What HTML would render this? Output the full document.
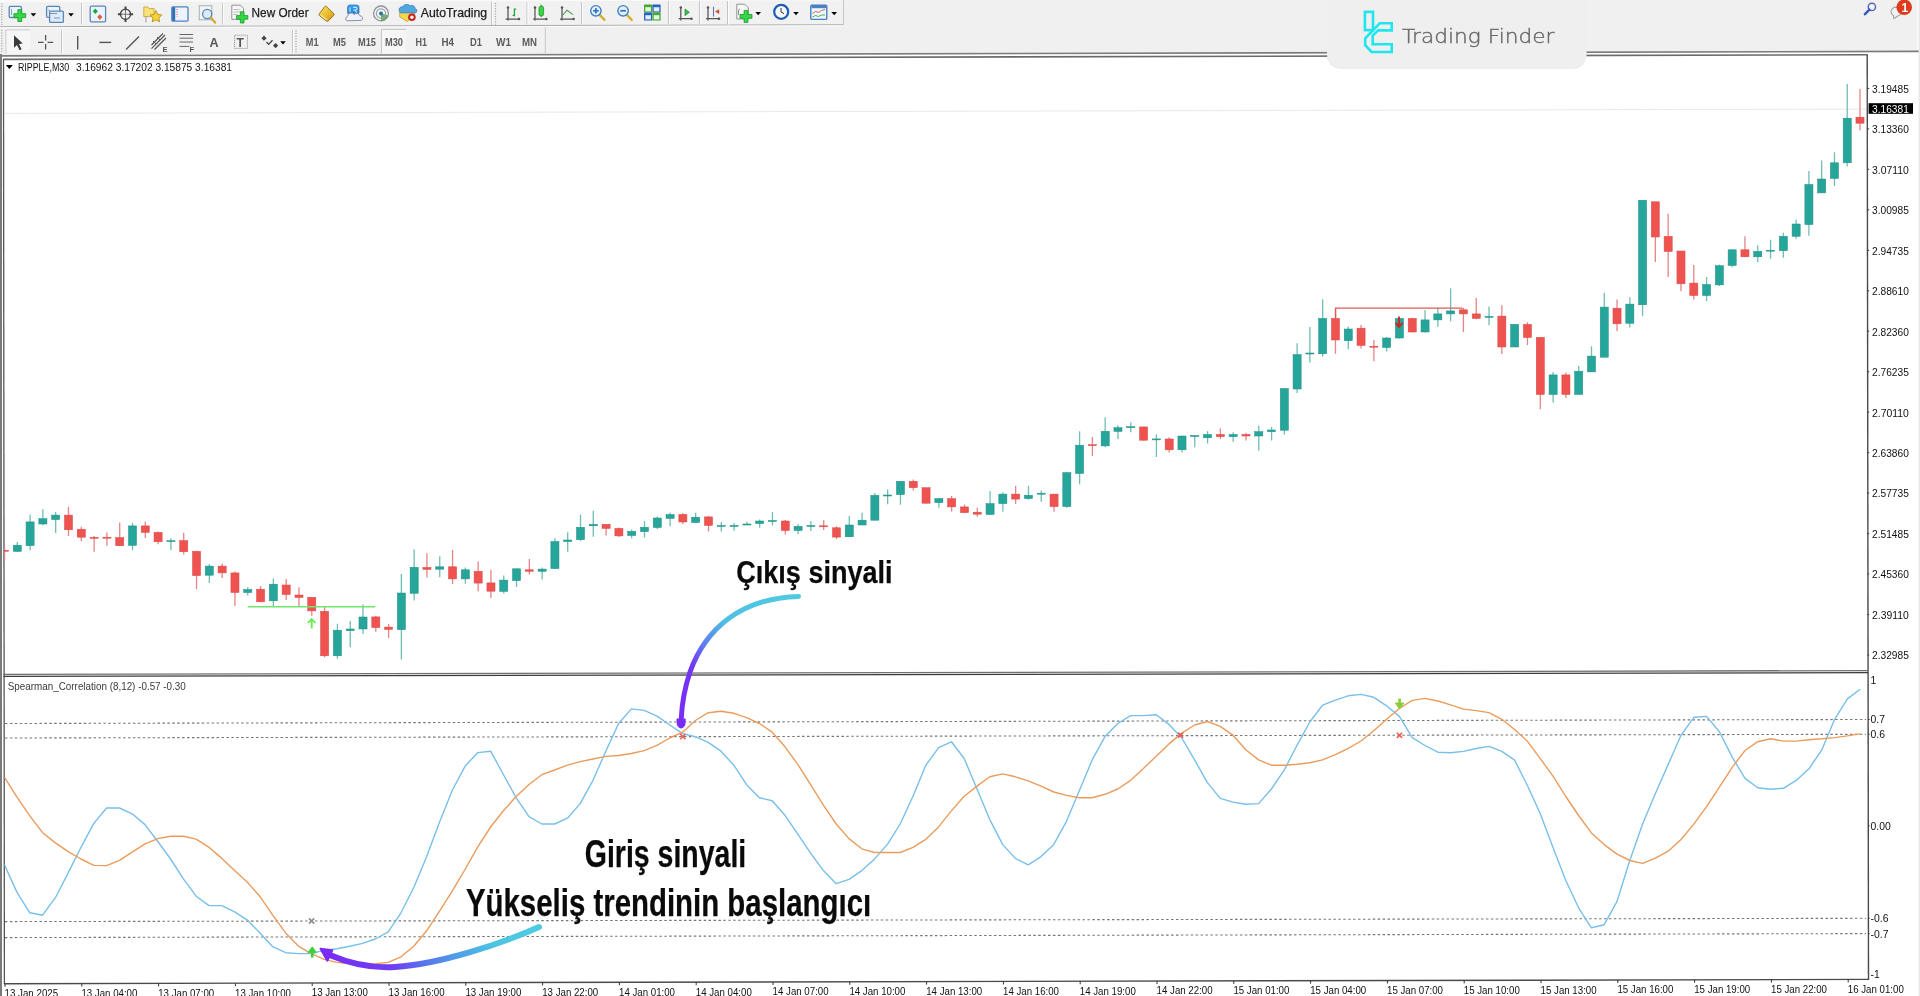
<!DOCTYPE html>
<html><head><meta charset="utf-8"><title>RIPPLE,M30</title>
<style>
html,body{margin:0;padding:0;background:#fff;width:1920px;height:996px;overflow:hidden}
svg{display:block;will-change:transform}
.ax{font-family:"Liberation Sans", Arial, sans-serif;font-size:10.4px;fill:#111}
.tb{font-family:"Liberation Sans", Arial, sans-serif;font-size:12px;fill:#1a1a1a}
.tf{font-family:"Liberation Sans", Arial, sans-serif;font-size:10.5px;fill:#505050;font-weight:bold}
.big{font-family:"Liberation Sans", Arial, sans-serif;font-weight:bold;fill:#0a0a0a;stroke:#0a0a0a;stroke-width:0.25px}
</style></head><body>
<svg width="1920" height="996" viewBox="0 0 1920 996">
<polygon points="0,0 1920,0 1920,51.3 0,55.8" fill="#f0f0f0"/>
<rect x="0" y="54" width="2" height="942" fill="#7a7a7a"/>
<rect x="1918.6" y="0" width="1.4" height="996" fill="#e9e9e9"/>
<line x1="0" y1="55.9" x2="1918.6" y2="51.4" stroke="#7c7c7c" stroke-width="1.6"/>
<line x1="3" y1="59.4" x2="1867.5" y2="54.8" stroke="#6a6a6a" stroke-width="1.6"/>
<line x1="3.5" y1="59" x2="4.4" y2="984" stroke="#555" stroke-width="1.3"/>
<line x1="1867.2" y1="54.5" x2="1868.5" y2="980" stroke="#4a4a4a" stroke-width="1.4"/>
<line x1="3.5" y1="674.3" x2="1868" y2="670.6" stroke="#707070" stroke-width="1.3"/>
<line x1="3.5" y1="676.4" x2="1868" y2="672.7" stroke="#3c3c3c" stroke-width="1.3"/>
<line x1="4" y1="983.7" x2="1868.5" y2="979.4" stroke="#4a4a4a" stroke-width="1.4"/>
<line x1="5" y1="113.4" x2="1866" y2="109.1" stroke="#ebe8e5" stroke-width="1"/>
<g clip-path="url(#mainclip)">
<line x1="4.52" y1="546.6" x2="4.52" y2="559.9" stroke="#e88383" stroke-width="1.3"/>
<rect x="0.47" y="550.3" width="8.1" height="1.0" fill="#ef5350" stroke="#d94848" stroke-width="0.5"/>
<line x1="17.32" y1="542.0" x2="17.32" y2="551.7" stroke="#6fbdb4" stroke-width="1.3"/>
<rect x="13.27" y="545.2" width="8.1" height="6.2" fill="#26a69a" stroke="#1f8f84" stroke-width="0.5"/>
<line x1="30.10" y1="514.7" x2="30.10" y2="550.2" stroke="#6fbdb4" stroke-width="1.3"/>
<rect x="26.05" y="521.9" width="8.1" height="23.8" fill="#26a69a" stroke="#1f8f84" stroke-width="0.5"/>
<line x1="42.89" y1="509.3" x2="42.89" y2="525.2" stroke="#6fbdb4" stroke-width="1.3"/>
<rect x="38.84" y="518.7" width="8.1" height="5.3" fill="#26a69a" stroke="#1f8f84" stroke-width="0.5"/>
<line x1="55.68" y1="512.0" x2="55.68" y2="533.1" stroke="#6fbdb4" stroke-width="1.3"/>
<rect x="51.63" y="515.1" width="8.1" height="4.5" fill="#26a69a" stroke="#1f8f84" stroke-width="0.5"/>
<line x1="68.49" y1="506.9" x2="68.49" y2="536.1" stroke="#e88383" stroke-width="1.3"/>
<rect x="64.44" y="515.1" width="8.1" height="14.7" fill="#ef5350" stroke="#d94848" stroke-width="0.5"/>
<line x1="81.30" y1="526.7" x2="81.30" y2="541.2" stroke="#e88383" stroke-width="1.3"/>
<rect x="77.25" y="529.2" width="8.1" height="8.0" fill="#ef5350" stroke="#d94848" stroke-width="0.5"/>
<line x1="94.11" y1="536.1" x2="94.11" y2="551.7" stroke="#e88383" stroke-width="1.3"/>
<rect x="90.06" y="537.4" width="8.1" height="1.0" fill="#ef5350" stroke="#d94848" stroke-width="0.5"/>
<line x1="106.91" y1="532.4" x2="106.91" y2="545.7" stroke="#e88383" stroke-width="1.3"/>
<rect x="102.86" y="537.2" width="8.1" height="1.0" fill="#ef5350" stroke="#d94848" stroke-width="0.5"/>
<line x1="119.71" y1="522.5" x2="119.71" y2="546.0" stroke="#e88383" stroke-width="1.3"/>
<rect x="115.66" y="537.6" width="8.1" height="8.1" fill="#ef5350" stroke="#d94848" stroke-width="0.5"/>
<line x1="132.50" y1="523.1" x2="132.50" y2="550.2" stroke="#6fbdb4" stroke-width="1.3"/>
<rect x="128.45" y="525.9" width="8.1" height="19.5" fill="#26a69a" stroke="#1f8f84" stroke-width="0.5"/>
<line x1="145.29" y1="521.6" x2="145.29" y2="538.0" stroke="#e88383" stroke-width="1.3"/>
<rect x="141.24" y="525.9" width="8.1" height="6.5" fill="#ef5350" stroke="#d94848" stroke-width="0.5"/>
<line x1="158.10" y1="531.6" x2="158.10" y2="544.2" stroke="#e88383" stroke-width="1.3"/>
<rect x="154.05" y="532.4" width="8.1" height="9.4" fill="#ef5350" stroke="#d94848" stroke-width="0.5"/>
<line x1="170.91" y1="538.2" x2="170.91" y2="550.2" stroke="#6fbdb4" stroke-width="1.3"/>
<rect x="166.86" y="540.7" width="8.1" height="1.0" fill="#26a69a" stroke="#1f8f84" stroke-width="0.5"/>
<line x1="183.72" y1="532.8" x2="183.72" y2="554.5" stroke="#e88383" stroke-width="1.3"/>
<rect x="179.67" y="540.6" width="8.1" height="11.1" fill="#ef5350" stroke="#d94848" stroke-width="0.5"/>
<line x1="196.54" y1="550.8" x2="196.54" y2="589.0" stroke="#e88383" stroke-width="1.3"/>
<rect x="192.49" y="551.3" width="8.1" height="24.3" fill="#ef5350" stroke="#d94848" stroke-width="0.5"/>
<line x1="209.34" y1="563.9" x2="209.34" y2="583.0" stroke="#6fbdb4" stroke-width="1.3"/>
<rect x="205.29" y="566.1" width="8.1" height="9.1" fill="#26a69a" stroke="#1f8f84" stroke-width="0.5"/>
<line x1="222.14" y1="563.4" x2="222.14" y2="577.9" stroke="#e88383" stroke-width="1.3"/>
<rect x="218.09" y="566.1" width="8.1" height="6.8" fill="#ef5350" stroke="#d94848" stroke-width="0.5"/>
<line x1="234.96" y1="571.4" x2="234.96" y2="606.0" stroke="#e88383" stroke-width="1.3"/>
<rect x="230.91" y="572.9" width="8.1" height="19.6" fill="#ef5350" stroke="#d94848" stroke-width="0.5"/>
<line x1="247.77" y1="587.2" x2="247.77" y2="595.5" stroke="#6fbdb4" stroke-width="1.3"/>
<rect x="243.72" y="589.5" width="8.1" height="3.0" fill="#26a69a" stroke="#1f8f84" stroke-width="0.5"/>
<line x1="260.57" y1="586.0" x2="260.57" y2="602.3" stroke="#e88383" stroke-width="1.3"/>
<rect x="256.52" y="589.2" width="8.1" height="12.6" fill="#ef5350" stroke="#d94848" stroke-width="0.5"/>
<line x1="273.37" y1="578.5" x2="273.37" y2="606.8" stroke="#6fbdb4" stroke-width="1.3"/>
<rect x="269.32" y="584.2" width="8.1" height="16.6" fill="#26a69a" stroke="#1f8f84" stroke-width="0.5"/>
<line x1="286.17" y1="579.0" x2="286.17" y2="600.0" stroke="#e88383" stroke-width="1.3"/>
<rect x="282.12" y="585.0" width="8.1" height="9.5" fill="#ef5350" stroke="#d94848" stroke-width="0.5"/>
<line x1="298.98" y1="587.2" x2="298.98" y2="606.8" stroke="#e88383" stroke-width="1.3"/>
<rect x="294.93" y="595.0" width="8.1" height="2.5" fill="#ef5350" stroke="#d94848" stroke-width="0.5"/>
<line x1="311.78" y1="597.3" x2="311.78" y2="615.8" stroke="#e88383" stroke-width="1.3"/>
<rect x="307.73" y="597.3" width="8.1" height="13.6" fill="#ef5350" stroke="#d94848" stroke-width="0.5"/>
<line x1="324.62" y1="607.1" x2="324.62" y2="657.3" stroke="#e88383" stroke-width="1.3"/>
<rect x="320.57" y="611.3" width="8.1" height="44.5" fill="#ef5350" stroke="#d94848" stroke-width="0.5"/>
<line x1="337.43" y1="623.7" x2="337.43" y2="658.8" stroke="#6fbdb4" stroke-width="1.3"/>
<rect x="333.38" y="630.2" width="8.1" height="25.6" fill="#26a69a" stroke="#1f8f84" stroke-width="0.5"/>
<line x1="350.22" y1="621.1" x2="350.22" y2="647.2" stroke="#6fbdb4" stroke-width="1.3"/>
<rect x="346.17" y="629.0" width="8.1" height="1.6" fill="#26a69a" stroke="#1f8f84" stroke-width="0.5"/>
<line x1="363.01" y1="604.5" x2="363.01" y2="633.9" stroke="#6fbdb4" stroke-width="1.3"/>
<rect x="358.96" y="617.0" width="8.1" height="12.0" fill="#26a69a" stroke="#1f8f84" stroke-width="0.5"/>
<line x1="375.81" y1="615.8" x2="375.81" y2="631.7" stroke="#e88383" stroke-width="1.3"/>
<rect x="371.76" y="616.9" width="8.1" height="10.7" fill="#ef5350" stroke="#d94848" stroke-width="0.5"/>
<line x1="388.61" y1="624.1" x2="388.61" y2="638.1" stroke="#e88383" stroke-width="1.3"/>
<rect x="384.56" y="627.1" width="8.1" height="2.3" fill="#ef5350" stroke="#d94848" stroke-width="0.5"/>
<line x1="401.39" y1="574.0" x2="401.39" y2="659.5" stroke="#6fbdb4" stroke-width="1.3"/>
<rect x="397.34" y="593.0" width="8.1" height="36.7" fill="#26a69a" stroke="#1f8f84" stroke-width="0.5"/>
<line x1="414.16" y1="549.3" x2="414.16" y2="600.5" stroke="#6fbdb4" stroke-width="1.3"/>
<rect x="410.11" y="567.3" width="8.1" height="26.0" fill="#26a69a" stroke="#1f8f84" stroke-width="0.5"/>
<line x1="426.94" y1="553.3" x2="426.94" y2="577.6" stroke="#e88383" stroke-width="1.3"/>
<rect x="422.89" y="567.4" width="8.1" height="2.0" fill="#ef5350" stroke="#d94848" stroke-width="0.5"/>
<line x1="439.74" y1="556.3" x2="439.74" y2="577.3" stroke="#6fbdb4" stroke-width="1.3"/>
<rect x="435.69" y="566.8" width="8.1" height="2.4" fill="#26a69a" stroke="#1f8f84" stroke-width="0.5"/>
<line x1="452.55" y1="550.0" x2="452.55" y2="584.1" stroke="#e88383" stroke-width="1.3"/>
<rect x="448.50" y="566.8" width="8.1" height="12.1" fill="#ef5350" stroke="#d94848" stroke-width="0.5"/>
<line x1="465.35" y1="567.6" x2="465.35" y2="583.7" stroke="#6fbdb4" stroke-width="1.3"/>
<rect x="461.30" y="569.8" width="8.1" height="9.1" fill="#26a69a" stroke="#1f8f84" stroke-width="0.5"/>
<line x1="478.15" y1="561.5" x2="478.15" y2="591.2" stroke="#e88383" stroke-width="1.3"/>
<rect x="474.10" y="571.3" width="8.1" height="11.8" fill="#ef5350" stroke="#d94848" stroke-width="0.5"/>
<line x1="490.96" y1="569.8" x2="490.96" y2="598.1" stroke="#e88383" stroke-width="1.3"/>
<rect x="486.91" y="582.9" width="8.1" height="8.3" fill="#ef5350" stroke="#d94848" stroke-width="0.5"/>
<line x1="503.76" y1="575.4" x2="503.76" y2="593.6" stroke="#6fbdb4" stroke-width="1.3"/>
<rect x="499.71" y="580.1" width="8.1" height="11.3" fill="#26a69a" stroke="#1f8f84" stroke-width="0.5"/>
<line x1="516.55" y1="568.8" x2="516.55" y2="587.1" stroke="#6fbdb4" stroke-width="1.3"/>
<rect x="512.50" y="568.8" width="8.1" height="11.9" fill="#26a69a" stroke="#1f8f84" stroke-width="0.5"/>
<line x1="529.34" y1="559.0" x2="529.34" y2="574.6" stroke="#e88383" stroke-width="1.3"/>
<rect x="525.29" y="569.8" width="8.1" height="1.5" fill="#ef5350" stroke="#d94848" stroke-width="0.5"/>
<line x1="542.14" y1="567.6" x2="542.14" y2="579.6" stroke="#6fbdb4" stroke-width="1.3"/>
<rect x="538.09" y="569.1" width="8.1" height="2.2" fill="#26a69a" stroke="#1f8f84" stroke-width="0.5"/>
<line x1="554.93" y1="538.2" x2="554.93" y2="569.1" stroke="#6fbdb4" stroke-width="1.3"/>
<rect x="550.88" y="541.5" width="8.1" height="27.1" fill="#26a69a" stroke="#1f8f84" stroke-width="0.5"/>
<line x1="567.71" y1="532.2" x2="567.71" y2="551.7" stroke="#6fbdb4" stroke-width="1.3"/>
<rect x="563.66" y="540.0" width="8.1" height="1.5" fill="#26a69a" stroke="#1f8f84" stroke-width="0.5"/>
<line x1="580.50" y1="514.8" x2="580.50" y2="540.9" stroke="#6fbdb4" stroke-width="1.3"/>
<rect x="576.45" y="527.3" width="8.1" height="12.4" fill="#26a69a" stroke="#1f8f84" stroke-width="0.5"/>
<line x1="593.29" y1="510.8" x2="593.29" y2="536.7" stroke="#6fbdb4" stroke-width="1.3"/>
<rect x="589.24" y="524.3" width="8.1" height="1.5" fill="#26a69a" stroke="#1f8f84" stroke-width="0.5"/>
<line x1="606.09" y1="524.3" x2="606.09" y2="535.5" stroke="#e88383" stroke-width="1.3"/>
<rect x="602.04" y="524.3" width="8.1" height="4.1" fill="#ef5350" stroke="#d94848" stroke-width="0.5"/>
<line x1="618.90" y1="527.6" x2="618.90" y2="537.0" stroke="#e88383" stroke-width="1.3"/>
<rect x="614.85" y="528.4" width="8.1" height="7.5" fill="#ef5350" stroke="#d94848" stroke-width="0.5"/>
<line x1="631.70" y1="529.5" x2="631.70" y2="538.2" stroke="#6fbdb4" stroke-width="1.3"/>
<rect x="627.65" y="531.4" width="8.1" height="4.1" fill="#26a69a" stroke="#1f8f84" stroke-width="0.5"/>
<line x1="644.50" y1="521.3" x2="644.50" y2="537.4" stroke="#6fbdb4" stroke-width="1.3"/>
<rect x="640.45" y="527.3" width="8.1" height="4.3" fill="#26a69a" stroke="#1f8f84" stroke-width="0.5"/>
<line x1="657.29" y1="516.4" x2="657.29" y2="529.0" stroke="#6fbdb4" stroke-width="1.3"/>
<rect x="653.24" y="518.0" width="8.1" height="9.5" fill="#26a69a" stroke="#1f8f84" stroke-width="0.5"/>
<line x1="670.08" y1="512.4" x2="670.08" y2="526.3" stroke="#6fbdb4" stroke-width="1.3"/>
<rect x="666.03" y="514.5" width="8.1" height="3.9" fill="#26a69a" stroke="#1f8f84" stroke-width="0.5"/>
<line x1="682.88" y1="513.0" x2="682.88" y2="524.0" stroke="#e88383" stroke-width="1.3"/>
<rect x="678.83" y="514.5" width="8.1" height="7.5" fill="#ef5350" stroke="#d94848" stroke-width="0.5"/>
<line x1="695.68" y1="512.7" x2="695.68" y2="523.3" stroke="#6fbdb4" stroke-width="1.3"/>
<rect x="691.63" y="517.2" width="8.1" height="5.3" fill="#26a69a" stroke="#1f8f84" stroke-width="0.5"/>
<line x1="708.49" y1="516.0" x2="708.49" y2="531.5" stroke="#e88383" stroke-width="1.3"/>
<rect x="704.44" y="516.9" width="8.1" height="8.6" fill="#ef5350" stroke="#d94848" stroke-width="0.5"/>
<line x1="721.29" y1="522.0" x2="721.29" y2="531.5" stroke="#6fbdb4" stroke-width="1.3"/>
<rect x="717.24" y="525.5" width="8.1" height="1.0" fill="#26a69a" stroke="#1f8f84" stroke-width="0.5"/>
<line x1="734.09" y1="523.0" x2="734.09" y2="530.8" stroke="#6fbdb4" stroke-width="1.3"/>
<rect x="730.04" y="525.5" width="8.1" height="1.0" fill="#26a69a" stroke="#1f8f84" stroke-width="0.5"/>
<line x1="746.89" y1="521.7" x2="746.89" y2="525.0" stroke="#6fbdb4" stroke-width="1.3"/>
<rect x="742.84" y="524.0" width="8.1" height="1.0" fill="#26a69a" stroke="#1f8f84" stroke-width="0.5"/>
<line x1="759.69" y1="519.5" x2="759.69" y2="527.8" stroke="#6fbdb4" stroke-width="1.3"/>
<rect x="755.64" y="521.0" width="8.1" height="2.6" fill="#26a69a" stroke="#1f8f84" stroke-width="0.5"/>
<line x1="772.49" y1="512.0" x2="772.49" y2="525.5" stroke="#6fbdb4" stroke-width="1.3"/>
<rect x="768.44" y="520.5" width="8.1" height="1.0" fill="#26a69a" stroke="#1f8f84" stroke-width="0.5"/>
<line x1="785.29" y1="520.0" x2="785.29" y2="534.5" stroke="#e88383" stroke-width="1.3"/>
<rect x="781.24" y="521.0" width="8.1" height="9.5" fill="#ef5350" stroke="#d94848" stroke-width="0.5"/>
<line x1="798.09" y1="524.0" x2="798.09" y2="534.1" stroke="#6fbdb4" stroke-width="1.3"/>
<rect x="794.04" y="526.3" width="8.1" height="4.2" fill="#26a69a" stroke="#1f8f84" stroke-width="0.5"/>
<line x1="810.89" y1="521.0" x2="810.89" y2="531.0" stroke="#6fbdb4" stroke-width="1.3"/>
<rect x="806.84" y="525.5" width="8.1" height="1.0" fill="#26a69a" stroke="#1f8f84" stroke-width="0.5"/>
<line x1="823.69" y1="520.2" x2="823.69" y2="530.0" stroke="#e88383" stroke-width="1.3"/>
<rect x="819.64" y="525.8" width="8.1" height="1.0" fill="#ef5350" stroke="#d94848" stroke-width="0.5"/>
<line x1="836.50" y1="526.3" x2="836.50" y2="539.0" stroke="#e88383" stroke-width="1.3"/>
<rect x="832.45" y="527.8" width="8.1" height="9.3" fill="#ef5350" stroke="#d94848" stroke-width="0.5"/>
<line x1="849.30" y1="516.0" x2="849.30" y2="536.8" stroke="#6fbdb4" stroke-width="1.3"/>
<rect x="845.25" y="525.0" width="8.1" height="11.8" fill="#26a69a" stroke="#1f8f84" stroke-width="0.5"/>
<line x1="862.09" y1="512.7" x2="862.09" y2="525.0" stroke="#6fbdb4" stroke-width="1.3"/>
<rect x="858.04" y="520.2" width="8.1" height="4.8" fill="#26a69a" stroke="#1f8f84" stroke-width="0.5"/>
<line x1="874.87" y1="493.1" x2="874.87" y2="520.2" stroke="#6fbdb4" stroke-width="1.3"/>
<rect x="870.82" y="495.4" width="8.1" height="24.8" fill="#26a69a" stroke="#1f8f84" stroke-width="0.5"/>
<line x1="887.65" y1="489.5" x2="887.65" y2="504.3" stroke="#6fbdb4" stroke-width="1.3"/>
<rect x="883.60" y="495.0" width="8.1" height="1.0" fill="#26a69a" stroke="#1f8f84" stroke-width="0.5"/>
<line x1="900.45" y1="481.3" x2="900.45" y2="504.7" stroke="#6fbdb4" stroke-width="1.3"/>
<rect x="896.40" y="481.3" width="8.1" height="13.3" fill="#26a69a" stroke="#1f8f84" stroke-width="0.5"/>
<line x1="913.24" y1="479.5" x2="913.24" y2="490.4" stroke="#e88383" stroke-width="1.3"/>
<rect x="909.19" y="481.3" width="8.1" height="6.4" fill="#ef5350" stroke="#d94848" stroke-width="0.5"/>
<line x1="926.05" y1="487.7" x2="926.05" y2="503.6" stroke="#e88383" stroke-width="1.3"/>
<rect x="922.00" y="487.7" width="8.1" height="15.5" fill="#ef5350" stroke="#d94848" stroke-width="0.5"/>
<line x1="938.86" y1="497.9" x2="938.86" y2="507.7" stroke="#6fbdb4" stroke-width="1.3"/>
<rect x="934.81" y="498.6" width="8.1" height="4.1" fill="#26a69a" stroke="#1f8f84" stroke-width="0.5"/>
<line x1="951.66" y1="496.1" x2="951.66" y2="511.4" stroke="#e88383" stroke-width="1.3"/>
<rect x="947.61" y="498.6" width="8.1" height="8.3" fill="#ef5350" stroke="#d94848" stroke-width="0.5"/>
<line x1="964.47" y1="504.7" x2="964.47" y2="513.0" stroke="#e88383" stroke-width="1.3"/>
<rect x="960.42" y="506.9" width="8.1" height="5.8" fill="#ef5350" stroke="#d94848" stroke-width="0.5"/>
<line x1="977.28" y1="507.7" x2="977.28" y2="516.7" stroke="#e88383" stroke-width="1.3"/>
<rect x="973.23" y="512.2" width="8.1" height="2.0" fill="#ef5350" stroke="#d94848" stroke-width="0.5"/>
<line x1="990.07" y1="491.1" x2="990.07" y2="514.5" stroke="#6fbdb4" stroke-width="1.3"/>
<rect x="986.02" y="503.6" width="8.1" height="10.9" fill="#26a69a" stroke="#1f8f84" stroke-width="0.5"/>
<line x1="1002.86" y1="492.6" x2="1002.86" y2="511.7" stroke="#6fbdb4" stroke-width="1.3"/>
<rect x="998.81" y="494.1" width="8.1" height="9.5" fill="#26a69a" stroke="#1f8f84" stroke-width="0.5"/>
<line x1="1015.66" y1="485.8" x2="1015.66" y2="503.9" stroke="#e88383" stroke-width="1.3"/>
<rect x="1011.61" y="494.1" width="8.1" height="5.0" fill="#ef5350" stroke="#d94848" stroke-width="0.5"/>
<line x1="1028.46" y1="485.8" x2="1028.46" y2="499.7" stroke="#6fbdb4" stroke-width="1.3"/>
<rect x="1024.41" y="495.2" width="8.1" height="3.4" fill="#26a69a" stroke="#1f8f84" stroke-width="0.5"/>
<line x1="1041.25" y1="490.4" x2="1041.25" y2="501.7" stroke="#6fbdb4" stroke-width="1.3"/>
<rect x="1037.20" y="493.2" width="8.1" height="1.0" fill="#26a69a" stroke="#1f8f84" stroke-width="0.5"/>
<line x1="1054.06" y1="494.1" x2="1054.06" y2="511.7" stroke="#e88383" stroke-width="1.3"/>
<rect x="1050.01" y="494.1" width="8.1" height="12.5" fill="#ef5350" stroke="#d94848" stroke-width="0.5"/>
<line x1="1066.85" y1="472.3" x2="1066.85" y2="507.7" stroke="#6fbdb4" stroke-width="1.3"/>
<rect x="1062.80" y="472.6" width="8.1" height="34.0" fill="#26a69a" stroke="#1f8f84" stroke-width="0.5"/>
<line x1="1079.61" y1="431.3" x2="1079.61" y2="484.3" stroke="#6fbdb4" stroke-width="1.3"/>
<rect x="1075.56" y="445.2" width="8.1" height="28.3" fill="#26a69a" stroke="#1f8f84" stroke-width="0.5"/>
<line x1="1092.39" y1="436.9" x2="1092.39" y2="456.0" stroke="#e88383" stroke-width="1.3"/>
<rect x="1088.34" y="444.7" width="8.1" height="1.0" fill="#ef5350" stroke="#d94848" stroke-width="0.5"/>
<line x1="1105.19" y1="417.3" x2="1105.19" y2="447.0" stroke="#6fbdb4" stroke-width="1.3"/>
<rect x="1101.14" y="431.3" width="8.1" height="14.6" fill="#26a69a" stroke="#1f8f84" stroke-width="0.5"/>
<line x1="1117.98" y1="425.3" x2="1117.98" y2="439.0" stroke="#6fbdb4" stroke-width="1.3"/>
<rect x="1113.93" y="427.7" width="8.1" height="3.7" fill="#26a69a" stroke="#1f8f84" stroke-width="0.5"/>
<line x1="1130.77" y1="422.4" x2="1130.77" y2="432.2" stroke="#6fbdb4" stroke-width="1.3"/>
<rect x="1126.72" y="426.7" width="8.1" height="1.0" fill="#26a69a" stroke="#1f8f84" stroke-width="0.5"/>
<line x1="1143.58" y1="426.9" x2="1143.58" y2="440.4" stroke="#e88383" stroke-width="1.3"/>
<rect x="1139.53" y="426.9" width="8.1" height="13.3" fill="#ef5350" stroke="#d94848" stroke-width="0.5"/>
<line x1="1156.39" y1="434.5" x2="1156.39" y2="457.0" stroke="#6fbdb4" stroke-width="1.3"/>
<rect x="1152.34" y="438.9" width="8.1" height="1.0" fill="#26a69a" stroke="#1f8f84" stroke-width="0.5"/>
<line x1="1169.19" y1="437.2" x2="1169.19" y2="452.5" stroke="#e88383" stroke-width="1.3"/>
<rect x="1165.14" y="439.0" width="8.1" height="10.8" fill="#ef5350" stroke="#d94848" stroke-width="0.5"/>
<line x1="1181.99" y1="435.7" x2="1181.99" y2="452.5" stroke="#6fbdb4" stroke-width="1.3"/>
<rect x="1177.94" y="436.0" width="8.1" height="13.8" fill="#26a69a" stroke="#1f8f84" stroke-width="0.5"/>
<line x1="1194.78" y1="435.2" x2="1194.78" y2="447.3" stroke="#6fbdb4" stroke-width="1.3"/>
<rect x="1190.73" y="435.5" width="8.1" height="1.0" fill="#26a69a" stroke="#1f8f84" stroke-width="0.5"/>
<line x1="1207.58" y1="431.1" x2="1207.58" y2="443.5" stroke="#6fbdb4" stroke-width="1.3"/>
<rect x="1203.53" y="434.5" width="8.1" height="3.3" fill="#26a69a" stroke="#1f8f84" stroke-width="0.5"/>
<line x1="1220.38" y1="428.4" x2="1220.38" y2="439.0" stroke="#e88383" stroke-width="1.3"/>
<rect x="1216.33" y="434.5" width="8.1" height="2.2" fill="#ef5350" stroke="#d94848" stroke-width="0.5"/>
<line x1="1233.18" y1="432.2" x2="1233.18" y2="441.7" stroke="#6fbdb4" stroke-width="1.3"/>
<rect x="1229.13" y="434.5" width="8.1" height="2.2" fill="#26a69a" stroke="#1f8f84" stroke-width="0.5"/>
<line x1="1245.98" y1="432.7" x2="1245.98" y2="440.5" stroke="#e88383" stroke-width="1.3"/>
<rect x="1241.93" y="434.5" width="8.1" height="1.5" fill="#ef5350" stroke="#d94848" stroke-width="0.5"/>
<line x1="1258.78" y1="425.4" x2="1258.78" y2="450.7" stroke="#6fbdb4" stroke-width="1.3"/>
<rect x="1254.73" y="431.7" width="8.1" height="4.3" fill="#26a69a" stroke="#1f8f84" stroke-width="0.5"/>
<line x1="1271.58" y1="426.9" x2="1271.58" y2="440.5" stroke="#6fbdb4" stroke-width="1.3"/>
<rect x="1267.53" y="430.0" width="8.1" height="1.7" fill="#26a69a" stroke="#1f8f84" stroke-width="0.5"/>
<line x1="1284.35" y1="388.5" x2="1284.35" y2="434.5" stroke="#6fbdb4" stroke-width="1.3"/>
<rect x="1280.30" y="388.5" width="8.1" height="41.7" fill="#26a69a" stroke="#1f8f84" stroke-width="0.5"/>
<line x1="1297.11" y1="343.3" x2="1297.11" y2="393.0" stroke="#6fbdb4" stroke-width="1.3"/>
<rect x="1293.06" y="354.6" width="8.1" height="34.4" fill="#26a69a" stroke="#1f8f84" stroke-width="0.5"/>
<line x1="1309.88" y1="327.0" x2="1309.88" y2="362.5" stroke="#6fbdb4" stroke-width="1.3"/>
<rect x="1305.83" y="353.0" width="8.1" height="1.0" fill="#26a69a" stroke="#1f8f84" stroke-width="0.5"/>
<line x1="1322.66" y1="299.3" x2="1322.66" y2="356.8" stroke="#6fbdb4" stroke-width="1.3"/>
<rect x="1318.61" y="318.4" width="8.1" height="35.4" fill="#26a69a" stroke="#1f8f84" stroke-width="0.5"/>
<line x1="1335.46" y1="308.2" x2="1335.46" y2="353.8" stroke="#e88383" stroke-width="1.3"/>
<rect x="1331.41" y="318.4" width="8.1" height="21.6" fill="#ef5350" stroke="#d94848" stroke-width="0.5"/>
<line x1="1348.26" y1="326.4" x2="1348.26" y2="349.3" stroke="#6fbdb4" stroke-width="1.3"/>
<rect x="1344.21" y="329.0" width="8.1" height="11.7" fill="#26a69a" stroke="#1f8f84" stroke-width="0.5"/>
<line x1="1361.06" y1="324.9" x2="1361.06" y2="348.5" stroke="#e88383" stroke-width="1.3"/>
<rect x="1357.01" y="328.2" width="8.1" height="17.3" fill="#ef5350" stroke="#d94848" stroke-width="0.5"/>
<line x1="1373.88" y1="340.0" x2="1373.88" y2="361.3" stroke="#e88383" stroke-width="1.3"/>
<rect x="1369.83" y="346.2" width="8.1" height="1.0" fill="#ef5350" stroke="#d94848" stroke-width="0.5"/>
<line x1="1386.67" y1="336.9" x2="1386.67" y2="351.5" stroke="#6fbdb4" stroke-width="1.3"/>
<rect x="1382.62" y="338.0" width="8.1" height="9.5" fill="#26a69a" stroke="#1f8f84" stroke-width="0.5"/>
<line x1="1399.45" y1="318.4" x2="1399.45" y2="338.7" stroke="#6fbdb4" stroke-width="1.3"/>
<rect x="1395.40" y="318.4" width="8.1" height="19.6" fill="#26a69a" stroke="#1f8f84" stroke-width="0.5"/>
<line x1="1412.25" y1="317.7" x2="1412.25" y2="332.4" stroke="#e88383" stroke-width="1.3"/>
<rect x="1408.20" y="318.4" width="8.1" height="13.6" fill="#ef5350" stroke="#d94848" stroke-width="0.5"/>
<line x1="1425.05" y1="310.1" x2="1425.05" y2="332.4" stroke="#6fbdb4" stroke-width="1.3"/>
<rect x="1421.00" y="319.9" width="8.1" height="12.1" fill="#26a69a" stroke="#1f8f84" stroke-width="0.5"/>
<line x1="1437.84" y1="307.4" x2="1437.84" y2="326.7" stroke="#6fbdb4" stroke-width="1.3"/>
<rect x="1433.79" y="313.9" width="8.1" height="6.0" fill="#26a69a" stroke="#1f8f84" stroke-width="0.5"/>
<line x1="1450.63" y1="288.3" x2="1450.63" y2="321.4" stroke="#6fbdb4" stroke-width="1.3"/>
<rect x="1446.58" y="310.9" width="8.1" height="3.0" fill="#26a69a" stroke="#1f8f84" stroke-width="0.5"/>
<line x1="1463.43" y1="307.9" x2="1463.43" y2="332.0" stroke="#e88383" stroke-width="1.3"/>
<rect x="1459.38" y="309.8" width="8.1" height="4.1" fill="#ef5350" stroke="#d94848" stroke-width="0.5"/>
<line x1="1476.24" y1="298.1" x2="1476.24" y2="319.2" stroke="#e88383" stroke-width="1.3"/>
<rect x="1472.19" y="313.9" width="8.1" height="4.5" fill="#ef5350" stroke="#d94848" stroke-width="0.5"/>
<line x1="1489.04" y1="306.4" x2="1489.04" y2="325.2" stroke="#6fbdb4" stroke-width="1.3"/>
<rect x="1484.99" y="316.4" width="8.1" height="1.0" fill="#26a69a" stroke="#1f8f84" stroke-width="0.5"/>
<line x1="1501.86" y1="305.3" x2="1501.86" y2="354.1" stroke="#e88383" stroke-width="1.3"/>
<rect x="1497.81" y="316.1" width="8.1" height="30.9" fill="#ef5350" stroke="#d94848" stroke-width="0.5"/>
<line x1="1514.66" y1="324.4" x2="1514.66" y2="347.0" stroke="#6fbdb4" stroke-width="1.3"/>
<rect x="1510.61" y="324.4" width="8.1" height="22.6" fill="#26a69a" stroke="#1f8f84" stroke-width="0.5"/>
<line x1="1527.46" y1="322.2" x2="1527.46" y2="345.1" stroke="#e88383" stroke-width="1.3"/>
<rect x="1523.41" y="324.4" width="8.1" height="13.1" fill="#ef5350" stroke="#d94848" stroke-width="0.5"/>
<line x1="1540.30" y1="337.3" x2="1540.30" y2="409.2" stroke="#e88383" stroke-width="1.3"/>
<rect x="1536.25" y="337.3" width="8.1" height="57.2" fill="#ef5350" stroke="#d94848" stroke-width="0.5"/>
<line x1="1553.12" y1="371.9" x2="1553.12" y2="402.4" stroke="#6fbdb4" stroke-width="1.3"/>
<rect x="1549.07" y="374.9" width="8.1" height="19.6" fill="#26a69a" stroke="#1f8f84" stroke-width="0.5"/>
<line x1="1565.92" y1="372.6" x2="1565.92" y2="397.9" stroke="#e88383" stroke-width="1.3"/>
<rect x="1561.87" y="374.9" width="8.1" height="19.6" fill="#ef5350" stroke="#d94848" stroke-width="0.5"/>
<line x1="1578.72" y1="365.8" x2="1578.72" y2="394.5" stroke="#6fbdb4" stroke-width="1.3"/>
<rect x="1574.67" y="371.2" width="8.1" height="23.3" fill="#26a69a" stroke="#1f8f84" stroke-width="0.5"/>
<line x1="1591.50" y1="346.4" x2="1591.50" y2="371.9" stroke="#6fbdb4" stroke-width="1.3"/>
<rect x="1587.45" y="356.1" width="8.1" height="15.8" fill="#26a69a" stroke="#1f8f84" stroke-width="0.5"/>
<line x1="1604.26" y1="292.8" x2="1604.26" y2="357.2" stroke="#6fbdb4" stroke-width="1.3"/>
<rect x="1600.21" y="307.1" width="8.1" height="50.1" fill="#26a69a" stroke="#1f8f84" stroke-width="0.5"/>
<line x1="1617.04" y1="299.6" x2="1617.04" y2="331.2" stroke="#e88383" stroke-width="1.3"/>
<rect x="1612.99" y="308.2" width="8.1" height="15.6" fill="#ef5350" stroke="#d94848" stroke-width="0.5"/>
<line x1="1629.84" y1="297.3" x2="1629.84" y2="327.4" stroke="#6fbdb4" stroke-width="1.3"/>
<rect x="1625.79" y="304.1" width="8.1" height="19.2" fill="#26a69a" stroke="#1f8f84" stroke-width="0.5"/>
<line x1="1642.56" y1="200.2" x2="1642.56" y2="316.1" stroke="#6fbdb4" stroke-width="1.3"/>
<rect x="1638.51" y="200.2" width="8.1" height="104.6" fill="#26a69a" stroke="#1f8f84" stroke-width="0.5"/>
<line x1="1655.32" y1="201.8" x2="1655.32" y2="261.9" stroke="#e88383" stroke-width="1.3"/>
<rect x="1651.27" y="201.8" width="8.1" height="35.2" fill="#ef5350" stroke="#d94848" stroke-width="0.5"/>
<line x1="1668.15" y1="213.7" x2="1668.15" y2="277.0" stroke="#e88383" stroke-width="1.3"/>
<rect x="1664.10" y="236.3" width="8.1" height="15.2" fill="#ef5350" stroke="#d94848" stroke-width="0.5"/>
<line x1="1680.98" y1="251.0" x2="1680.98" y2="291.2" stroke="#e88383" stroke-width="1.3"/>
<rect x="1676.93" y="251.0" width="8.1" height="32.8" fill="#ef5350" stroke="#d94848" stroke-width="0.5"/>
<line x1="1693.81" y1="265.0" x2="1693.81" y2="299.6" stroke="#e88383" stroke-width="1.3"/>
<rect x="1689.76" y="283.1" width="8.1" height="12.4" fill="#ef5350" stroke="#d94848" stroke-width="0.5"/>
<line x1="1706.61" y1="277.0" x2="1706.61" y2="301.2" stroke="#6fbdb4" stroke-width="1.3"/>
<rect x="1702.56" y="284.5" width="8.1" height="11.0" fill="#26a69a" stroke="#1f8f84" stroke-width="0.5"/>
<line x1="1719.39" y1="264.6" x2="1719.39" y2="286.0" stroke="#6fbdb4" stroke-width="1.3"/>
<rect x="1715.34" y="265.7" width="8.1" height="19.2" fill="#26a69a" stroke="#1f8f84" stroke-width="0.5"/>
<line x1="1732.17" y1="249.2" x2="1732.17" y2="267.3" stroke="#6fbdb4" stroke-width="1.3"/>
<rect x="1728.12" y="249.8" width="8.1" height="15.7" fill="#26a69a" stroke="#1f8f84" stroke-width="0.5"/>
<line x1="1744.96" y1="236.2" x2="1744.96" y2="257.3" stroke="#e88383" stroke-width="1.3"/>
<rect x="1740.91" y="249.8" width="8.1" height="7.0" fill="#ef5350" stroke="#d94848" stroke-width="0.5"/>
<line x1="1757.76" y1="245.4" x2="1757.76" y2="262.2" stroke="#6fbdb4" stroke-width="1.3"/>
<rect x="1753.71" y="251.4" width="8.1" height="5.4" fill="#26a69a" stroke="#1f8f84" stroke-width="0.5"/>
<line x1="1770.56" y1="239.7" x2="1770.56" y2="258.8" stroke="#6fbdb4" stroke-width="1.3"/>
<rect x="1766.51" y="250.2" width="8.1" height="1.0" fill="#26a69a" stroke="#1f8f84" stroke-width="0.5"/>
<line x1="1783.35" y1="232.7" x2="1783.35" y2="257.8" stroke="#6fbdb4" stroke-width="1.3"/>
<rect x="1779.30" y="236.3" width="8.1" height="14.4" fill="#26a69a" stroke="#1f8f84" stroke-width="0.5"/>
<line x1="1796.14" y1="219.6" x2="1796.14" y2="238.7" stroke="#6fbdb4" stroke-width="1.3"/>
<rect x="1792.09" y="224.0" width="8.1" height="12.3" fill="#26a69a" stroke="#1f8f84" stroke-width="0.5"/>
<line x1="1808.91" y1="171.0" x2="1808.91" y2="235.7" stroke="#6fbdb4" stroke-width="1.3"/>
<rect x="1804.86" y="184.5" width="8.1" height="40.1" fill="#26a69a" stroke="#1f8f84" stroke-width="0.5"/>
<line x1="1821.68" y1="160.4" x2="1821.68" y2="192.9" stroke="#6fbdb4" stroke-width="1.3"/>
<rect x="1817.63" y="179.0" width="8.1" height="13.9" fill="#26a69a" stroke="#1f8f84" stroke-width="0.5"/>
<line x1="1834.46" y1="152.3" x2="1834.46" y2="185.9" stroke="#6fbdb4" stroke-width="1.3"/>
<rect x="1830.41" y="162.8" width="8.1" height="15.6" fill="#26a69a" stroke="#1f8f84" stroke-width="0.5"/>
<line x1="1847.23" y1="84.0" x2="1847.23" y2="166.4" stroke="#6fbdb4" stroke-width="1.3"/>
<rect x="1843.18" y="118.2" width="8.1" height="44.6" fill="#26a69a" stroke="#1f8f84" stroke-width="0.5"/>
<line x1="1860.00" y1="89.1" x2="1860.00" y2="130.2" stroke="#e88383" stroke-width="1.3"/>
<rect x="1855.95" y="117.2" width="8.1" height="6.0" fill="#ef5350" stroke="#d94848" stroke-width="0.5"/>
</g>
<line x1="247.7" y1="606.8" x2="375.2" y2="606.8" stroke="#72e36c" stroke-width="1.5"/>
<path d="M311.7,628.5 L311.7,619.5 M308,623 L311.7,619 L315.4,623" stroke="#63f04a" stroke-width="1.8" fill="none"/>
<path d="M1335.6,318 L1335.6,308.2 L1462.6,308.2" stroke="#e05a5a" stroke-width="1.3" fill="none"/>
<path d="M1399,316.5 L1399,326.5 M1395.4,322.8 L1399,326.8 L1402.6,322.8" stroke="#d42020" stroke-width="1.8" fill="none"/>
<line x1="1867.5" y1="88.4" x2="1869.2" y2="88.4" stroke="#333" stroke-width="1"/>
<text x="1872" y="92.7" class="ax" textLength="36.8" lengthAdjust="spacingAndGlyphs">3.19485</text>
<line x1="1867.5" y1="128.9" x2="1869.2" y2="128.9" stroke="#333" stroke-width="1"/>
<text x="1872" y="133.2" class="ax" textLength="36.8" lengthAdjust="spacingAndGlyphs">3.13360</text>
<line x1="1867.5" y1="169.3" x2="1869.2" y2="169.3" stroke="#333" stroke-width="1"/>
<text x="1872" y="173.6" class="ax" textLength="36.8" lengthAdjust="spacingAndGlyphs">3.07110</text>
<line x1="1867.5" y1="209.8" x2="1869.2" y2="209.8" stroke="#333" stroke-width="1"/>
<text x="1872" y="214.1" class="ax" textLength="36.8" lengthAdjust="spacingAndGlyphs">3.00985</text>
<line x1="1867.5" y1="250.3" x2="1869.2" y2="250.3" stroke="#333" stroke-width="1"/>
<text x="1872" y="254.6" class="ax" textLength="36.8" lengthAdjust="spacingAndGlyphs">2.94735</text>
<line x1="1867.5" y1="290.8" x2="1869.2" y2="290.8" stroke="#333" stroke-width="1"/>
<text x="1872" y="295.1" class="ax" textLength="36.8" lengthAdjust="spacingAndGlyphs">2.88610</text>
<line x1="1867.5" y1="331.2" x2="1869.2" y2="331.2" stroke="#333" stroke-width="1"/>
<text x="1872" y="335.5" class="ax" textLength="36.8" lengthAdjust="spacingAndGlyphs">2.82360</text>
<line x1="1867.5" y1="371.7" x2="1869.2" y2="371.7" stroke="#333" stroke-width="1"/>
<text x="1872" y="376.0" class="ax" textLength="36.8" lengthAdjust="spacingAndGlyphs">2.76235</text>
<line x1="1867.5" y1="412.2" x2="1869.2" y2="412.2" stroke="#333" stroke-width="1"/>
<text x="1872" y="416.5" class="ax" textLength="36.8" lengthAdjust="spacingAndGlyphs">2.70110</text>
<line x1="1867.5" y1="452.6" x2="1869.2" y2="452.6" stroke="#333" stroke-width="1"/>
<text x="1872" y="456.9" class="ax" textLength="36.8" lengthAdjust="spacingAndGlyphs">2.63860</text>
<line x1="1867.5" y1="493.1" x2="1869.2" y2="493.1" stroke="#333" stroke-width="1"/>
<text x="1872" y="497.4" class="ax" textLength="36.8" lengthAdjust="spacingAndGlyphs">2.57735</text>
<line x1="1867.5" y1="533.6" x2="1869.2" y2="533.6" stroke="#333" stroke-width="1"/>
<text x="1872" y="537.9" class="ax" textLength="36.8" lengthAdjust="spacingAndGlyphs">2.51485</text>
<line x1="1867.5" y1="574.0" x2="1869.2" y2="574.0" stroke="#333" stroke-width="1"/>
<text x="1872" y="578.3" class="ax" textLength="36.8" lengthAdjust="spacingAndGlyphs">2.45360</text>
<line x1="1867.5" y1="614.5" x2="1869.2" y2="614.5" stroke="#333" stroke-width="1"/>
<text x="1872" y="618.8" class="ax" textLength="36.8" lengthAdjust="spacingAndGlyphs">2.39110</text>
<line x1="1867.5" y1="655.0" x2="1869.2" y2="655.0" stroke="#333" stroke-width="1"/>
<text x="1872" y="659.3" class="ax" textLength="36.8" lengthAdjust="spacingAndGlyphs">2.32985</text>
<rect x="1868.6" y="103.2" width="44.4" height="10.6" fill="#000"/>
<text x="1872" y="113.3" class="ax" style="fill:#fff" textLength="36.8" lengthAdjust="spacingAndGlyphs">3.16381</text>
<path d="M5.8,65.1 L12.9,65.1 L9.35,69.1 Z" fill="#000"/>
<text x="17.9" y="70.8" class="ax" textLength="51.3" lengthAdjust="spacingAndGlyphs">RIPPLE,M30</text>
<text x="76" y="70.8" class="ax" textLength="156" lengthAdjust="spacingAndGlyphs">3.16962 3.17202 3.15875 3.16381</text>
<text x="7.8" y="690.1" class="ax" style="fill:#3a3a3a" textLength="178" lengthAdjust="spacingAndGlyphs">Spearman_Correlation (8,12) -0.57 -0.30</text>
<line x1="5" y1="723.5" x2="1866" y2="719.5" stroke="#767676" stroke-width="1.1" stroke-dasharray="2.5 2.42"/>
<line x1="5" y1="738" x2="1866" y2="734.3" stroke="#767676" stroke-width="1.1" stroke-dasharray="2.5 2.42"/>
<line x1="5" y1="921.6" x2="1866" y2="918.3" stroke="#767676" stroke-width="1.1" stroke-dasharray="2.5 2.42"/>
<line x1="5" y1="937.6" x2="1866" y2="933.6" stroke="#767676" stroke-width="1.1" stroke-dasharray="2.5 2.42"/>
<g clip-path="url(#subclip)">
<polyline points="4.2,864.2 17.0,892.4 29.8,912.8 42.6,915.2 55.4,897.7 68.2,872.9 81.0,847.3 93.8,823.4 106.6,808.0 119.4,808.0 132.2,813.8 145.0,824.6 157.8,841.5 170.6,859.0 183.4,878.8 196.2,896.2 209.0,905.6 221.8,905.6 234.6,911.8 247.4,920.1 260.2,933.2 273.0,946.9 285.8,952.7 298.6,953.6 311.4,953.6 324.2,950.1 337.0,948.7 349.8,946.3 362.6,943.4 375.4,939.0 388.2,931.8 401.0,912.8 413.8,887.5 426.6,856.7 439.4,822.5 452.2,790.5 465.0,766.3 477.8,752.6 490.6,751.2 503.4,774.5 516.2,797.8 529.0,816.7 541.8,824.0 554.6,824.0 567.4,818.2 580.2,803.6 593.0,780.3 605.8,751.2 618.6,723.5 631.4,708.9 644.2,710.4 657.0,716.2 669.8,725.0 682.6,733.7 695.4,736.6 708.2,742.4 721.0,751.2 733.8,765.2 746.6,784.7 759.4,797.8 772.2,800.7 785.0,815.3 797.8,834.2 810.6,853.1 823.4,870.6 836.2,883.7 849.0,879.3 861.8,870.6 874.6,858.9 887.4,844.4 900.2,824.0 913.0,796.3 925.8,765.3 938.6,747.7 951.4,741.8 964.2,758.5 977.0,789.0 989.8,819.6 1002.6,844.4 1015.4,858.4 1028.2,864.8 1041.0,856.6 1053.8,844.4 1066.6,821.1 1079.4,790.5 1092.2,759.9 1105.0,736.6 1117.8,723.5 1130.6,715.6 1143.4,715.6 1156.2,714.8 1169.0,724.4 1181.8,738.0 1194.6,759.9 1207.4,782.6 1220.2,798.4 1233.0,802.1 1245.8,804.2 1258.6,803.6 1271.4,789.0 1284.2,770.1 1297.0,745.3 1309.8,722.0 1322.6,705.1 1335.4,700.2 1348.2,695.8 1361.0,694.4 1373.8,697.3 1386.6,705.8 1399.4,716.4 1412.2,737.7 1425.0,745.5 1437.8,752.2 1450.6,752.8 1463.4,751.4 1476.2,748.5 1489.0,746.4 1501.8,751.4 1514.6,760.1 1527.4,785.5 1540.2,813.5 1553.0,847.5 1565.8,880.5 1578.6,907.8 1591.4,927.8 1604.2,924.7 1617.0,901.4 1629.8,860.5 1642.6,824.1 1655.4,793.5 1668.2,764.4 1681.0,735.3 1693.8,717.3 1706.6,716.4 1719.4,731.8 1732.2,757.1 1745.0,778.4 1757.8,787.7 1770.6,789.2 1783.4,788.3 1796.2,780.4 1809.0,768.8 1821.8,749.9 1834.6,719.3 1847.4,698.9 1860.2,689.3" fill="none" stroke="#78bfea" stroke-width="1.4" stroke-linejoin="round"/>
<polyline points="4.2,776.8 17.0,797.2 29.8,815.8 42.6,832.7 55.4,842.9 68.2,851.7 81.0,859.0 93.8,865.4 106.6,865.6 119.4,860.4 132.2,852.2 145.0,843.8 157.8,838.6 170.6,836.2 183.4,836.2 196.2,839.1 209.0,847.3 221.8,858.4 234.6,870.6 247.4,882.3 260.2,896.8 273.0,915.7 285.8,933.2 298.6,946.3 311.4,953.6 324.2,959.4 337.0,962.4 349.8,963.8 362.6,964.5 375.4,963.8 388.2,962.4 401.0,956.8 413.8,946.3 426.6,930.8 439.4,911.4 452.2,891.2 465.0,869.5 477.8,846.8 490.6,827.0 503.4,810.8 516.2,796.5 529.0,784.5 541.8,774.7 554.6,770.0 567.4,765.2 580.2,761.6 593.0,759.0 605.8,756.4 618.6,755.5 631.4,753.5 644.2,750.6 657.0,745.3 669.8,738.0 682.6,732.2 695.4,720.5 708.2,712.7 721.0,711.3 733.8,713.3 746.6,717.7 759.4,723.5 772.2,732.2 785.0,746.8 797.8,764.3 810.6,784.7 823.4,805.1 836.2,824.0 849.0,838.6 861.8,848.8 874.6,852.5 887.4,852.5 900.2,852.5 913.0,847.3 925.8,839.3 938.6,826.9 951.4,810.9 964.2,796.3 977.0,786.1 989.8,776.8 1002.6,773.9 1015.4,776.8 1028.2,780.9 1041.0,786.1 1053.8,792.0 1066.6,795.4 1079.4,797.8 1092.2,797.8 1105.0,794.3 1117.8,789.0 1130.6,780.3 1143.4,768.6 1156.2,756.2 1169.0,743.9 1181.8,733.1 1194.6,725.0 1207.4,721.5 1220.2,726.4 1233.0,735.2 1245.8,749.7 1258.6,759.9 1271.4,765.2 1284.2,765.2 1297.0,764.3 1309.8,762.8 1322.6,759.9 1335.4,754.7 1348.2,748.3 1361.0,741.0 1373.8,730.8 1386.6,719.2 1399.4,708.5 1412.2,700.4 1425.0,698.4 1437.8,701.0 1450.6,704.8 1463.4,709.1 1476.2,710.6 1489.0,712.6 1501.8,719.3 1514.6,729.5 1527.4,741.2 1540.2,758.6 1553.0,776.1 1565.8,796.5 1578.6,815.5 1591.4,832.9 1604.2,844.6 1617.0,854.1 1629.8,860.5 1642.6,863.4 1655.4,858.2 1668.2,851.2 1681.0,839.5 1693.8,824.1 1706.6,806.6 1719.4,787.1 1732.2,767.3 1745.0,750.5 1757.8,741.7 1770.6,738.8 1783.4,741.1 1796.2,741.1 1809.0,739.7 1821.8,738.8 1834.6,737.6 1847.4,735.9 1860.2,733.9" fill="none" stroke="#eb9c5c" stroke-width="1.4" stroke-linejoin="round"/>
</g>
<path d="M309.0,918.4 L314.20000000000005,923.6 M309.0,923.6 L314.20000000000005,918.4" stroke="#888" stroke-width="1.5"/>
<path d="M680.1999999999999,734.0 L685.4,739.2 M680.1999999999999,739.2 L685.4,734.0" stroke="#f05a4a" stroke-width="1.5"/>
<path d="M1178.0,732.6 L1183.1999999999998,737.8000000000001 M1178.0,737.8000000000001 L1183.1999999999998,732.6" stroke="#f05a4a" stroke-width="1.5"/>
<path d="M1396.9,732.6999999999999 L1402.1,737.9 M1396.9,737.9 L1402.1,732.6999999999999" stroke="#f05a4a" stroke-width="1.5"/>
<path d="M312.2,957.6 L312.2,950.5" stroke="#3ecf3e" stroke-width="2.6" fill="none"/>
<path d="M307.8,952.6 L312.2,946.8 L316.6,952.6 Z" fill="#3ecf3e" stroke="#3ecf3e" stroke-width="0.8" stroke-linejoin="round"/>
<path d="M1399.6,698.6 L1399.6,704.6" stroke="#8ccb3a" stroke-width="2.6" fill="none"/>
<path d="M1395.2,703 L1399.6,709 L1404,703 Z" fill="#8ccb3a" stroke="#8ccb3a" stroke-width="0.8" stroke-linejoin="round"/>
<text x="1870.5" y="683.9" class="ax">1</text>
<line x1="1868" y1="719.5" x2="1869.6" y2="719.5" stroke="#333" stroke-width="1"/>
<text x="1870.5" y="723.4" class="ax">0.7</text>
<line x1="1868" y1="734.3" x2="1869.6" y2="734.3" stroke="#333" stroke-width="1"/>
<text x="1870.5" y="738.2" class="ax">0.6</text>
<line x1="1868" y1="825.8" x2="1869.6" y2="825.8" stroke="#333" stroke-width="1"/>
<text x="1870.5" y="829.7" class="ax">0.00</text>
<line x1="1868" y1="918.3" x2="1869.6" y2="918.3" stroke="#333" stroke-width="1"/>
<text x="1870.5" y="922.2" class="ax">-0.6</text>
<line x1="1868" y1="933.6" x2="1869.6" y2="933.6" stroke="#333" stroke-width="1"/>
<text x="1870.5" y="937.5" class="ax">-0.7</text>
<text x="1870.5" y="977.6" class="ax">-1</text>
<line x1="5.0" y1="983.8" x2="5.0" y2="986.8" stroke="#333" stroke-width="1"/>
<text x="4.6" y="997.1" class="ax" textLength="53.5" lengthAdjust="spacingAndGlyphs">13 Jan 2025</text>
<line x1="81.8" y1="983.6" x2="81.8" y2="986.6" stroke="#333" stroke-width="1"/>
<text x="81.4" y="996.9" class="ax" textLength="56" lengthAdjust="spacingAndGlyphs">13 Jan 04:00</text>
<line x1="158.6" y1="983.4" x2="158.6" y2="986.4" stroke="#333" stroke-width="1"/>
<text x="158.2" y="996.7" class="ax" textLength="56" lengthAdjust="spacingAndGlyphs">13 Jan 07:00</text>
<line x1="235.4" y1="983.2" x2="235.4" y2="986.2" stroke="#333" stroke-width="1"/>
<text x="235.0" y="996.5" class="ax" textLength="56" lengthAdjust="spacingAndGlyphs">13 Jan 10:00</text>
<line x1="312.2" y1="983.1" x2="312.2" y2="986.1" stroke="#333" stroke-width="1"/>
<text x="311.8" y="996.4" class="ax" textLength="56" lengthAdjust="spacingAndGlyphs">13 Jan 13:00</text>
<line x1="389.0" y1="982.9" x2="389.0" y2="985.9" stroke="#333" stroke-width="1"/>
<text x="388.6" y="996.2" class="ax" textLength="56" lengthAdjust="spacingAndGlyphs">13 Jan 16:00</text>
<line x1="465.8" y1="982.7" x2="465.8" y2="985.7" stroke="#333" stroke-width="1"/>
<text x="465.4" y="996.0" class="ax" textLength="56" lengthAdjust="spacingAndGlyphs">13 Jan 19:00</text>
<line x1="542.6" y1="982.5" x2="542.6" y2="985.5" stroke="#333" stroke-width="1"/>
<text x="542.2" y="995.8" class="ax" textLength="56" lengthAdjust="spacingAndGlyphs">13 Jan 22:00</text>
<line x1="619.4" y1="982.3" x2="619.4" y2="985.3" stroke="#333" stroke-width="1"/>
<text x="619.0" y="995.6" class="ax" textLength="56" lengthAdjust="spacingAndGlyphs">14 Jan 01:00</text>
<line x1="696.2" y1="982.2" x2="696.2" y2="985.2" stroke="#333" stroke-width="1"/>
<text x="695.8" y="995.5" class="ax" textLength="56" lengthAdjust="spacingAndGlyphs">14 Jan 04:00</text>
<line x1="773.0" y1="982.0" x2="773.0" y2="985.0" stroke="#333" stroke-width="1"/>
<text x="772.6" y="995.3" class="ax" textLength="56" lengthAdjust="spacingAndGlyphs">14 Jan 07:00</text>
<line x1="849.8" y1="981.8" x2="849.8" y2="984.8" stroke="#333" stroke-width="1"/>
<text x="849.4" y="995.1" class="ax" textLength="56" lengthAdjust="spacingAndGlyphs">14 Jan 10:00</text>
<line x1="926.6" y1="981.6" x2="926.6" y2="984.6" stroke="#333" stroke-width="1"/>
<text x="926.2" y="994.9" class="ax" textLength="56" lengthAdjust="spacingAndGlyphs">14 Jan 13:00</text>
<line x1="1003.4" y1="981.4" x2="1003.4" y2="984.4" stroke="#333" stroke-width="1"/>
<text x="1003.0" y="994.7" class="ax" textLength="56" lengthAdjust="spacingAndGlyphs">14 Jan 16:00</text>
<line x1="1080.2" y1="981.3" x2="1080.2" y2="984.3" stroke="#333" stroke-width="1"/>
<text x="1079.8" y="994.6" class="ax" textLength="56" lengthAdjust="spacingAndGlyphs">14 Jan 19:00</text>
<line x1="1157.0" y1="981.1" x2="1157.0" y2="984.1" stroke="#333" stroke-width="1"/>
<text x="1156.6" y="994.4" class="ax" textLength="56" lengthAdjust="spacingAndGlyphs">14 Jan 22:00</text>
<line x1="1233.8" y1="980.9" x2="1233.8" y2="983.9" stroke="#333" stroke-width="1"/>
<text x="1233.4" y="994.2" class="ax" textLength="56" lengthAdjust="spacingAndGlyphs">15 Jan 01:00</text>
<line x1="1310.6" y1="980.7" x2="1310.6" y2="983.7" stroke="#333" stroke-width="1"/>
<text x="1310.2" y="994.0" class="ax" textLength="56" lengthAdjust="spacingAndGlyphs">15 Jan 04:00</text>
<line x1="1387.4" y1="980.5" x2="1387.4" y2="983.5" stroke="#333" stroke-width="1"/>
<text x="1387.0" y="993.8" class="ax" textLength="56" lengthAdjust="spacingAndGlyphs">15 Jan 07:00</text>
<line x1="1464.2" y1="980.4" x2="1464.2" y2="983.4" stroke="#333" stroke-width="1"/>
<text x="1463.8" y="993.7" class="ax" textLength="56" lengthAdjust="spacingAndGlyphs">15 Jan 10:00</text>
<line x1="1541.0" y1="980.2" x2="1541.0" y2="983.2" stroke="#333" stroke-width="1"/>
<text x="1540.6" y="993.5" class="ax" textLength="56" lengthAdjust="spacingAndGlyphs">15 Jan 13:00</text>
<line x1="1617.8" y1="980.0" x2="1617.8" y2="983.0" stroke="#333" stroke-width="1"/>
<text x="1617.4" y="993.3" class="ax" textLength="56" lengthAdjust="spacingAndGlyphs">15 Jan 16:00</text>
<line x1="1694.6" y1="979.8" x2="1694.6" y2="982.8" stroke="#333" stroke-width="1"/>
<text x="1694.2" y="993.1" class="ax" textLength="56" lengthAdjust="spacingAndGlyphs">15 Jan 19:00</text>
<line x1="1771.4" y1="979.6" x2="1771.4" y2="982.6" stroke="#333" stroke-width="1"/>
<text x="1771.0" y="992.9" class="ax" textLength="56" lengthAdjust="spacingAndGlyphs">15 Jan 22:00</text>
<line x1="1848.2" y1="979.4" x2="1848.2" y2="982.4" stroke="#333" stroke-width="1"/>
<text x="1847.8" y="992.7" class="ax" textLength="56" lengthAdjust="spacingAndGlyphs">16 Jan 01:00</text>
<defs>
<linearGradient id="g1" gradientUnits="userSpaceOnUse" x1="798" y1="596" x2="680" y2="728">
<stop offset="0" stop-color="#4fcbe0"/><stop offset="0.38" stop-color="#4fc0e4"/><stop offset="0.52" stop-color="#5a8cee"/><stop offset="0.7" stop-color="#7136f5"/><stop offset="1" stop-color="#7a2cf6"/></linearGradient>
<linearGradient id="g2" gradientUnits="userSpaceOnUse" x1="540" y1="926" x2="322" y2="952">
<stop offset="0" stop-color="#4fcbe0"/><stop offset="0.22" stop-color="#4cc4e2"/><stop offset="0.4" stop-color="#4e9ce8"/><stop offset="0.55" stop-color="#5a72ee"/><stop offset="0.68" stop-color="#6c40f3"/><stop offset="1" stop-color="#7a2cf6"/></linearGradient>
<clipPath id="mainclip"><polygon points="4.2,59 1867,54.5 1867,671 4.2,674.8"/></clipPath>
<clipPath id="subclip"><polygon points="4.4,676 1867,672 1868,979 4.4,983.5"/></clipPath>
</defs>
<path d="M798.5,596.4 C740,598 705,630 690,672 C684,690 682,703 681.3,718" fill="none" stroke="url(#g1)" stroke-width="5" stroke-linecap="round"/>
<path d="M677.1,719.2 L685.1,719.2 L684.6,725 Q681.1,730.6 677.6,725 Z" fill="#7a2cf6" stroke="#7a2cf6" stroke-width="1.4" stroke-linejoin="round"/>
<path d="M539,927 C502,943.5 440,964.3 395,967 C372,968.4 350,963.6 331,955.5" fill="none" stroke="url(#g2)" stroke-width="6" stroke-linecap="round"/>
<path d="M320.6,948.8 L332.2,950.4 L327.4,960.6 Z" fill="#7a2cf6" stroke="#7a2cf6" stroke-width="2.2" stroke-linejoin="round"/>
<text x="736.3" y="582.8" class="big" font-size="31" textLength="156.2" lengthAdjust="spacingAndGlyphs">Çıkış sinyali</text>
<text x="584.8" y="866.6" class="big" font-size="39" textLength="161.4" lengthAdjust="spacingAndGlyphs">Giriş sinyali</text>
<text x="465.9" y="915.6" class="big" font-size="38.5" textLength="405.3" lengthAdjust="spacingAndGlyphs">Yükseliş trendinin başlangıcı</text>
<polygon points="0,0 843,0 843,0.66 0,2.6" fill="#f9f9f9"/>
<polygon points="4,2.6 843,0.66 843,24.06 4,25.99" fill="#f1f1f1"/>
<line x1="0" y1="26.7" x2="843.5" y2="24.76" stroke="#ababab" stroke-width="1"/>
<line x1="0" y1="27.8" x2="843.5" y2="25.86" stroke="#fbfbfb" stroke-width="1"/>
<line x1="843.5" y1="0" x2="843.5" y2="24.56" stroke="#c8c8c8" stroke-width="1"/>
<polygon points="4,29 545,27.75 545,52.95 4,54.2" fill="#f1f1f1"/>
<line x1="545.3" y1="27.15" x2="545.3" y2="53.15" stroke="#c8c8c8" stroke-width="1"/>
<line x1="1.8" y1="3.5" x2="1.8" y2="25" stroke="#9a9a9a" stroke-width="1.2" stroke-dasharray="1 1.6"/>
<line x1="1.8" y1="30" x2="1.8" y2="53" stroke="#9a9a9a" stroke-width="1.2" stroke-dasharray="1 1.6"/>
<line x1="495.5" y1="3" x2="495.5" y2="24.5" stroke="#9a9a9a" stroke-width="1.2" stroke-dasharray="1 1.6"/>
<line x1="296" y1="30.5" x2="296" y2="53" stroke="#9a9a9a" stroke-width="1.2" stroke-dasharray="1 1.6"/>
<line x1="81.5" y1="3" x2="81.5" y2="24.5" stroke="#c4c4c4" stroke-width="1"/>
<line x1="82.5" y1="3" x2="82.5" y2="24.5" stroke="#fdfdfd" stroke-width="1"/>
<line x1="222.6" y1="3" x2="222.6" y2="24.5" stroke="#c4c4c4" stroke-width="1"/>
<line x1="223.6" y1="3" x2="223.6" y2="24.5" stroke="#fdfdfd" stroke-width="1"/>
<line x1="491.5" y1="1.5" x2="491.5" y2="25" stroke="#c4c4c4" stroke-width="1"/>
<line x1="492.5" y1="1.5" x2="492.5" y2="25" stroke="#fdfdfd" stroke-width="1"/>
<line x1="527" y1="2" x2="527" y2="24.5" stroke="#c4c4c4" stroke-width="1"/>
<line x1="528" y1="2" x2="528" y2="24.5" stroke="#fdfdfd" stroke-width="1"/>
<line x1="581.5" y1="2" x2="581.5" y2="24.5" stroke="#c4c4c4" stroke-width="1"/>
<line x1="582.5" y1="2" x2="582.5" y2="24.5" stroke="#fdfdfd" stroke-width="1"/>
<line x1="668.5" y1="1" x2="668.5" y2="24.5" stroke="#c4c4c4" stroke-width="1"/>
<line x1="669.5" y1="1" x2="669.5" y2="24.5" stroke="#fdfdfd" stroke-width="1"/>
<line x1="699.5" y1="1" x2="699.5" y2="24.5" stroke="#c4c4c4" stroke-width="1"/>
<line x1="700.5" y1="1" x2="700.5" y2="24.5" stroke="#fdfdfd" stroke-width="1"/>
<line x1="727.5" y1="1" x2="727.5" y2="24.5" stroke="#c4c4c4" stroke-width="1"/>
<line x1="728.5" y1="1" x2="728.5" y2="24.5" stroke="#fdfdfd" stroke-width="1"/>
<line x1="61.5" y1="30" x2="61.5" y2="53" stroke="#c4c4c4" stroke-width="1"/>
<line x1="62.5" y1="30" x2="62.5" y2="53" stroke="#fdfdfd" stroke-width="1"/>
<line x1="292.5" y1="30" x2="292.5" y2="53" stroke="#c4c4c4" stroke-width="1"/>
<line x1="293.5" y1="30" x2="293.5" y2="53" stroke="#fdfdfd" stroke-width="1"/>
<rect x="9.2" y="6.3" width="12.2" height="11.2" rx="1.2" fill="#eaf4fd" stroke="#5a86b8" stroke-width="1.3"/>
<path d="M11.5,9 v6" stroke="#7a8aa0" stroke-width="0.8"/>
<path d="M17.85,9.7 h3.9 v3.95 h3.95 v3.9 h-3.95 v3.95 h-3.9 v-3.95 h-3.95 v-3.9 h3.95 Z" fill="#33d844" stroke="#169a26" stroke-width="0.8"/>
<path d="M30.6,13.2 L36.2,13.2 L33.4,16.4 Z" fill="#000"/>
<rect x="46.6" y="6.3" width="13.2" height="11" rx="1.2" fill="#eaf4fd" stroke="#5a86b8" stroke-width="1.3"/>
<rect x="49.6" y="11.2" width="13.8" height="11.2" rx="1.2" fill="#dcebfa" stroke="#5a86b8" stroke-width="1.3"/>
<path d="M49,9.5 v2 M49,13.5 h8 M54,18 h6" stroke="#6a7d95" stroke-width="0.8"/>
<path d="M68.2,13.2 L73.8,13.2 L71.0,16.4 Z" fill="#000"/>
<rect x="90.2" y="6.2" width="15.4" height="15.6" rx="1.2" fill="#eaf4fd" stroke="#5a86b8" stroke-width="1.3"/>
<path d="M95.3,8.5 l2.6,2.8 l-2.6,2.8 l-2.6,-2.8 Z" fill="#19a83a"/>
<path d="M99.8,14.3 l2.6,2.8 l-2.6,2.8 l-2.6,-2.8 Z" fill="#e06040"/>
<circle cx="125.5" cy="14.3" r="5.1" fill="none" stroke="#4a4a4a" stroke-width="1.3"/>
<path d="M125.5,9.5 v9.6 M120.7,14.3 h9.6" stroke="#6a6a6a" stroke-width="0.9"/>
<path d="M125.5,6.6 v3.6 M125.5,18.4 v3.6 M117.9,14.3 h3.6 M129.5,14.3 h3.6" stroke="#444" stroke-width="2"/>
<path d="M143.8,7 h4 l1.3,1.6 h5 v8 h-10.3 Z" fill="#f7e27a" stroke="#c9a63a" stroke-width="0.9"/>
<line x1="146" y1="16.5" x2="146" y2="22.5" stroke="#999" stroke-width="1"/>
<path d="M155.9,10.6 l1.8,3.9 l4.1,0.5 l-3,2.8 l0.8,4.1 l-3.7,-2.1 l-3.7,2.1 l0.8,-4.1 l-3,-2.8 l4.1,-0.5 Z" fill="#f5d43a" stroke="#b98f1e" stroke-width="0.9"/>
<rect x="171.8" y="6.8" width="16.2" height="14.4" rx="1.2" fill="#eef3fb" stroke="#4a83c4" stroke-width="1.3"/>
<rect x="172.2" y="7.2" width="3" height="13.6" fill="#2f6db4"/>
<path d="M177,9 v8" stroke="#d05050" stroke-width="1" stroke-dasharray="1 1.5"/>
<rect x="199.2" y="5.8" width="12.6" height="14" fill="#f4f4f4" stroke="#9aa" stroke-width="0.9"/>
<circle cx="207.2" cy="14" r="4.6" fill="#d8ecfb" stroke="#5a86c0" stroke-width="1.3"/>
<line x1="210.6" y1="17.6" x2="215.2" y2="22.6" stroke="#d4a52a" stroke-width="2.2" stroke-linecap="round"/>
<path d="M231.8,5.2 h8.5 l3.2,3.2 v11 h-11.7 Z" fill="#f6f6f6" stroke="#8a8a8a" stroke-width="0.9"/>
<path d="M233.5,9.5 h6 M233.5,12 h7 M233.5,14.5 h4" stroke="#b0b0b0" stroke-width="0.8"/>
<path d="M240.39999999999998,11.799999999999999 h3.6 v3.8 h3.8 v3.6 h-3.8 v3.8 h-3.6 v-3.8 h-3.8 v-3.6 h3.8 Z" fill="#33d844" stroke="#169a26" stroke-width="0.8"/>
<text x="251.6" y="17.2" style="font-family:'Liberation Sans',Arial,sans-serif;font-size:12.4px;fill:#1e1e1e;stroke:#1e1e1e;stroke-width:0.25px" textLength="57" lengthAdjust="spacingAndGlyphs">New Order</text>
<defs><linearGradient id="gold" x1="0" y1="0" x2="1" y2="1"><stop offset="0" stop-color="#fbe27a"/><stop offset="0.55" stop-color="#e9bd2a"/><stop offset="1" stop-color="#c98f1a"/></linearGradient><linearGradient id="blu" x1="0" y1="0" x2="0" y2="1"><stop offset="0" stop-color="#3aa6ea"/><stop offset="1" stop-color="#1f7fd0"/></linearGradient></defs>
<path d="M324.9,6.4 Q325.6,5.8 326.4,6.4 L333.8,13.6 Q334.6,14.6 333.8,15.4 L328.2,20.9 Q327.3,21.6 326.3,21 L319.4,15.6 Q318.6,14.7 319.3,13.8 Z" fill="url(#gold)" stroke="#8c6a1e" stroke-width="0.9"/>
<path d="M320.8,15.2 L327.2,20" stroke="#ffe49a" stroke-width="1.1"/>
<rect x="347.6" y="5" width="11.4" height="9.6" rx="2.2" fill="url(#blu)" stroke="#2a6cb4" stroke-width="0.7"/>
<path d="M350,7.6 v4.6 M353.2,7.4 h2.6 a1.3,1.3 0 0 1 0,2.6 h-2.6 M354.6,10 l2.2,2.6" stroke="#bfe8ff" stroke-width="1.1" fill="none"/>
<path d="M346.8,20.8 a2.6,2.6 0 0 1 0.8,-4.6 a3.6,3.2 0 0 1 6.6,-1.8 a3.4,3 0 0 1 5.8,1.4 a2.5,2.5 0 0 1 1.4,4.6 Z" fill="#eef1f8" stroke="#7e86a0" stroke-width="0.9"/>
<path d="M381,13.4 L381,21.3 A7.9,7.9 0 0 0 388.5,15.5 Z" fill="#4aa84a" opacity="0.85"/>
<circle cx="381" cy="13.4" r="7.4" fill="none" stroke="#8e9498" stroke-width="1.3"/>
<circle cx="381" cy="13.4" r="4.6" fill="none" stroke="#9aa2a6" stroke-width="1.2"/>
<circle cx="381" cy="13.4" r="2" fill="#2f6fa8"/>
<path d="M399.8,17 L407.4,21.6 L415.2,13 L399.6,12.4 Z" fill="#f2d84e" stroke="#b89a2a" stroke-width="0.7"/>
<path d="M399.4,11.2 a3.2,3 0 0 1 3.2,-4.4 a4.4,3.6 0 0 1 7.6,-1 a3.2,3 0 0 1 4.8,3 a2.2,2 0 0 1 -0.4,4 H400.6 a1.6,1.6 0 0 1 -1.2,-1.6 Z" fill="#4fa8e4" stroke="#2f78b8" stroke-width="0.7"/>
<circle cx="411.9" cy="17.2" r="3.8" fill="#c8261a"/><circle cx="411.9" cy="17.2" r="1.7" fill="#fff"/>
<text x="420.8" y="17.2" style="font-family:'Liberation Sans',Arial,sans-serif;font-size:12.4px;fill:#1e1e1e;stroke:#1e1e1e;stroke-width:0.25px" textLength="66.4" lengthAdjust="spacingAndGlyphs">AutoTrading</text>
<path d="M508,7.6 V20.6 M505.6,19 H519" stroke="#555" stroke-width="1.25" fill="none"/>
<circle cx="508" cy="7.6" r="1.25" fill="#555"/><circle cx="519" cy="19" r="1.25" fill="#555"/>
<path d="M514.4,8.5 V16.2 M514.4,9.2 h1.8 M512.6,15.4 h1.8" stroke="#1ea83a" stroke-width="1.3" fill="none"/>
<path d="M535,7.6 V20.6 M533.2,19 H546.4" stroke="#555" stroke-width="1.25" fill="none"/>
<circle cx="535" cy="7.6" r="1.25" fill="#555"/><circle cx="546.4" cy="19" r="1.25" fill="#555"/>
<line x1="541.2" y1="4.6" x2="541.2" y2="17" stroke="#1a8a2a" stroke-width="1"/>
<rect x="539" y="6.2" width="4.6" height="9.6" rx="1.6" fill="#3cd24a" stroke="#1c9a2c" stroke-width="0.8"/>
<path d="M562,7.6 V20.6 M560,19 H573.6" stroke="#555" stroke-width="1.25" fill="none"/>
<circle cx="562" cy="7.6" r="1.25" fill="#555"/><circle cx="573.6" cy="19" r="1.25" fill="#555"/>
<path d="M562.4,15.5 L567,10.2 L573,14.6" stroke="#4a9a4a" stroke-width="1.1" fill="none"/>
<line x1="599.5" y1="14.6" x2="604.5" y2="19.8" stroke="#d8b02a" stroke-width="2.4" stroke-linecap="round"/>
<circle cx="595.9" cy="10.8" r="5.2" fill="#dff0fc" stroke="#3f7fc6" stroke-width="1.4"/>
<path d="M593.1,10.8 h5.6" stroke="#2f6fb8" stroke-width="1.6"/>
<path d="M595.9,8 v5.6" stroke="#2f6fb8" stroke-width="1.6"/>
<line x1="626.7" y1="14.6" x2="631.7" y2="19.8" stroke="#d8b02a" stroke-width="2.4" stroke-linecap="round"/>
<circle cx="623.1" cy="10.8" r="5.2" fill="#dff0fc" stroke="#3f7fc6" stroke-width="1.4"/>
<path d="M620.3000000000001,10.8 h5.6" stroke="#2f6fb8" stroke-width="1.6"/>
<rect x="644" y="4.6" width="8.2" height="8" rx="0.6" fill="#45a83a"/><rect x="652.4" y="4.6" width="8.2" height="8" rx="0.6" fill="#2a62c0"/>
<rect x="644" y="12.6" width="8.2" height="8" rx="0.6" fill="#2a62c0"/><rect x="652.4" y="12.6" width="8.2" height="8" rx="0.6" fill="#45a83a"/>
<rect x="645.3" y="7.2" width="5.6" height="4.2" fill="#e6fbd8"/><rect x="653.7" y="7.2" width="5.6" height="4.2" fill="#e4f0ff"/>
<rect x="645.3" y="15.2" width="5.6" height="4.2" fill="#e4f0ff"/><rect x="653.7" y="15.2" width="5.6" height="4.2" fill="#e6fbd8"/>
<path d="M680.8,7.6 V20.6 M678.6,18.7 H691.5" stroke="#555" stroke-width="1.25" fill="none"/>
<circle cx="680.8" cy="7.6" r="1.25" fill="#555"/><circle cx="691.5" cy="18.7" r="1.25" fill="#555"/>
<path d="M685,9 L689.4,12.3 L685,15.6 Z" fill="#34c24a" stroke="#1f8a30" stroke-width="0.7"/>
<path d="M708,7.6 V20.6 M706,18.7 H719" stroke="#555" stroke-width="1.25" fill="none"/>
<circle cx="708" cy="7.6" r="1.25" fill="#555"/><circle cx="719" cy="18.7" r="1.25" fill="#555"/>
<line x1="713.5" y1="6.6" x2="713.5" y2="16.6" stroke="#5a7ac8" stroke-width="1.1"/>
<path d="M715,11.6 L719.2,9.2 L719.2,14 Z" fill="#d04a30"/>
<path d="M736.8,4.2 h8 l3.6,3.6 v11.2 h-11.6 Z" fill="#f6f6f6" stroke="#8a8a8a" stroke-width="0.9"/>
<path d="M740,9 c-1.5,0 -1.5,1.5 -1.5,3 v3" stroke="#777" stroke-width="0.8" fill="none"/>
<path d="M744.1,10.399999999999999 h3.8 v4.1 h4.1 v3.8 h-4.1 v4.1 h-3.8 v-4.1 h-4.1 v-3.8 h4.1 Z" fill="#33d844" stroke="#169a26" stroke-width="0.8"/>
<path d="M755.4,12 L761.0,12 L758.1999999999999,15.2 Z" fill="#000"/>
<circle cx="781.2" cy="11.8" r="7" fill="#f4f8fc" stroke="#1f5fb0" stroke-width="2.2"/>
<path d="M781,8 v4 l3,1.6" stroke="#333" stroke-width="1" fill="none"/>
<path d="M793.2,12 L798.8000000000001,12 L796.0,15.2 Z" fill="#000"/>
<rect x="810.8" y="5.2" width="16" height="14.2" rx="1" fill="#eef5fc" stroke="#4a80c4" stroke-width="1.4"/>
<rect x="811.5" y="5.8" width="14.6" height="2.4" fill="#4a80c4"/>
<path d="M812.5,13.5 l3,-2 l3,1 l3,-2 l3.5,-1" stroke="#c85a3a" stroke-width="0.9" fill="none"/>
<path d="M812.5,17 l3,-1.5 l3,1 l3,-1.5 l3.5,0" stroke="#3aa84a" stroke-width="0.9" fill="none"/>
<path d="M831.4,12 L837.0,12 L834.1999999999999,15.2 Z" fill="#000"/>
<path d="M6,53.5 V30 H30" fill="none" stroke="#c4c4c4" stroke-width="1"/>
<rect x="6.6" y="30.6" width="23.4" height="23" fill="#f6f6f6"/>
<path d="M14,35.2 L14,47.8 L17,45 L19.6,50.2 L21.6,49.2 L19,44 L22.8,43.6 Z" fill="#3a3a3a"/>
<path d="M45.6,35 v5.5 M45.6,44 v5.5 M38,42.3 h5.6 M47.6,42.3 h5.6" stroke="#555" stroke-width="1.3"/>
<line x1="77.7" y1="36" x2="77.7" y2="49.5" stroke="#555" stroke-width="1.4"/>
<line x1="99.4" y1="42.4" x2="111.2" y2="42.4" stroke="#555" stroke-width="1.4"/>
<line x1="126" y1="49.5" x2="139" y2="36.6" stroke="#555" stroke-width="1.4"/>
<path d="M151.5,45 L163,33.5 M151.5,48.6 L165,35 M154.5,49.5 L166,38" stroke="#555" stroke-width="1.2"/>
<path d="M153,41 l3,3 M157,37 l3,3" stroke="#555" stroke-width="1"/>
<text x="162.4" y="51.6" style="font-family:'Liberation Sans',Arial,sans-serif;font-size:7.6px;font-weight:bold;fill:#555">E</text>
<path d="M179.5,34.5 h13.6 M179.5,38.2 h13.6 M179.5,42 h13.6 M179.5,46.4 h10" stroke="#666" stroke-width="1"/>
<text x="189.6" y="51.6" style="font-family:'Liberation Sans',Arial,sans-serif;font-size:7.6px;font-weight:bold;fill:#555">F</text>
<text x="209.6" y="46.8" style="font-family:'Liberation Sans',Arial,sans-serif;font-size:12.6px;font-weight:bold;fill:#555">A</text>
<rect x="234.6" y="35.2" width="12.8" height="13.2" fill="none" stroke="#777" stroke-width="0.9" stroke-dasharray="1 1"/>
<text x="236.6" y="46.8" style="font-family:'Liberation Sans',Arial,sans-serif;font-size:12px;font-weight:bold;fill:#555">T</text>
<path d="M264,35.6 l2.6,2.6 l-2.6,2.6 l-2.6,-2.6 Z M275.6,43 l2.6,2.6 l-2.6,2.6 l-2.6,-2.6 Z" fill="#444"/>
<path d="M266.5,42 l2.2,2.4 l3.8,-4.2" stroke="#444" stroke-width="1.3" fill="none"/>
<path d="M280.2,41.2 L285.8,41.2 L283.0,44.400000000000006 Z" fill="#000"/>
<path d="M381.4,53.5 V29.4 H406" fill="none" stroke="#c4c4c4" stroke-width="1"/>
<rect x="382" y="30" width="24" height="23.6" fill="#f6f6f6"/>
<text x="305.8" y="45.7" style="font-family:'Liberation Sans',Arial,sans-serif;font-size:10px;font-weight:bold;fill:#5c5c5c" textLength="12.8" lengthAdjust="spacingAndGlyphs">M1</text>
<text x="333" y="45.7" style="font-family:'Liberation Sans',Arial,sans-serif;font-size:10px;font-weight:bold;fill:#5c5c5c" textLength="13" lengthAdjust="spacingAndGlyphs">M5</text>
<text x="358" y="45.7" style="font-family:'Liberation Sans',Arial,sans-serif;font-size:10px;font-weight:bold;fill:#5c5c5c" textLength="18" lengthAdjust="spacingAndGlyphs">M15</text>
<text x="385" y="45.7" style="font-family:'Liberation Sans',Arial,sans-serif;font-size:10px;font-weight:bold;fill:#5c5c5c" textLength="18" lengthAdjust="spacingAndGlyphs">M30</text>
<text x="415.5" y="45.7" style="font-family:'Liberation Sans',Arial,sans-serif;font-size:10px;font-weight:bold;fill:#5c5c5c" textLength="11.5" lengthAdjust="spacingAndGlyphs">H1</text>
<text x="441.5" y="45.7" style="font-family:'Liberation Sans',Arial,sans-serif;font-size:10px;font-weight:bold;fill:#5c5c5c" textLength="12.5" lengthAdjust="spacingAndGlyphs">H4</text>
<text x="470" y="45.7" style="font-family:'Liberation Sans',Arial,sans-serif;font-size:10px;font-weight:bold;fill:#5c5c5c" textLength="12" lengthAdjust="spacingAndGlyphs">D1</text>
<text x="496" y="45.7" style="font-family:'Liberation Sans',Arial,sans-serif;font-size:10px;font-weight:bold;fill:#5c5c5c" textLength="15" lengthAdjust="spacingAndGlyphs">W1</text>
<text x="522" y="45.7" style="font-family:'Liberation Sans',Arial,sans-serif;font-size:10px;font-weight:bold;fill:#5c5c5c" textLength="15" lengthAdjust="spacingAndGlyphs">MN</text>
<circle cx="1871.9" cy="6.9" r="3.6" fill="#f4f6ff" stroke="#5a64b0" stroke-width="1.5"/>
<line x1="1869.4" y1="9.6" x2="1865" y2="14.2" stroke="#3a5cc0" stroke-width="2.6" stroke-linecap="round"/>
<path d="M1894,18.6 l-0.6,-3 a5.2,4.6 0 1 1 4,0.6 Z" fill="#f2f2f2" stroke="#a0a0a0" stroke-width="1.1"/>
<circle cx="1904.2" cy="7.3" r="7.8" fill="#e03a1e"/>
<text x="1901.6" y="12.2" style="font-family:'Liberation Sans',Arial,sans-serif;font-size:12px;font-weight:bold;fill:#fff">1</text>
<rect x="1916.9" y="0" width="1.5" height="49.6" fill="#fbfbfb"/>
<path d="M1327,-2 H1586.6 V54 Q1586.6,68.2 1572.4,68.2 H1341.2 Q1327,68.2 1327,54 Z" fill="#efefef"/>
<path d="M1331,64 Q1334,68.2 1341.2,68.2 H1572.4 Q1580,68.2 1583,64" fill="none" stroke="#e8e8e8" stroke-width="1"/>
<rect x="1364.9" y="11.9" width="8.1" height="18.2" fill="none" stroke="#1ee6ee" stroke-width="2.6"/>
<path d="M1379.9,23.2 H1391.7 V30.4 H1378.2 L1372.7,35.6 V44.2 H1391.7 V52 H1371.6 L1365.2,45.2 V38.4 Z" fill="none" stroke="#1ee6ee" stroke-width="2.6" stroke-linejoin="miter"/>
<text x="1402" y="43" style="font-family:'DejaVu Sans','Liberation Sans',sans-serif;font-weight:200;font-size:19px;fill:#6a6a6a;stroke:#6a6a6a;stroke-width:0.4px" textLength="152.5" lengthAdjust="spacingAndGlyphs">Trading Finder</text>
</svg>
</body></html>
